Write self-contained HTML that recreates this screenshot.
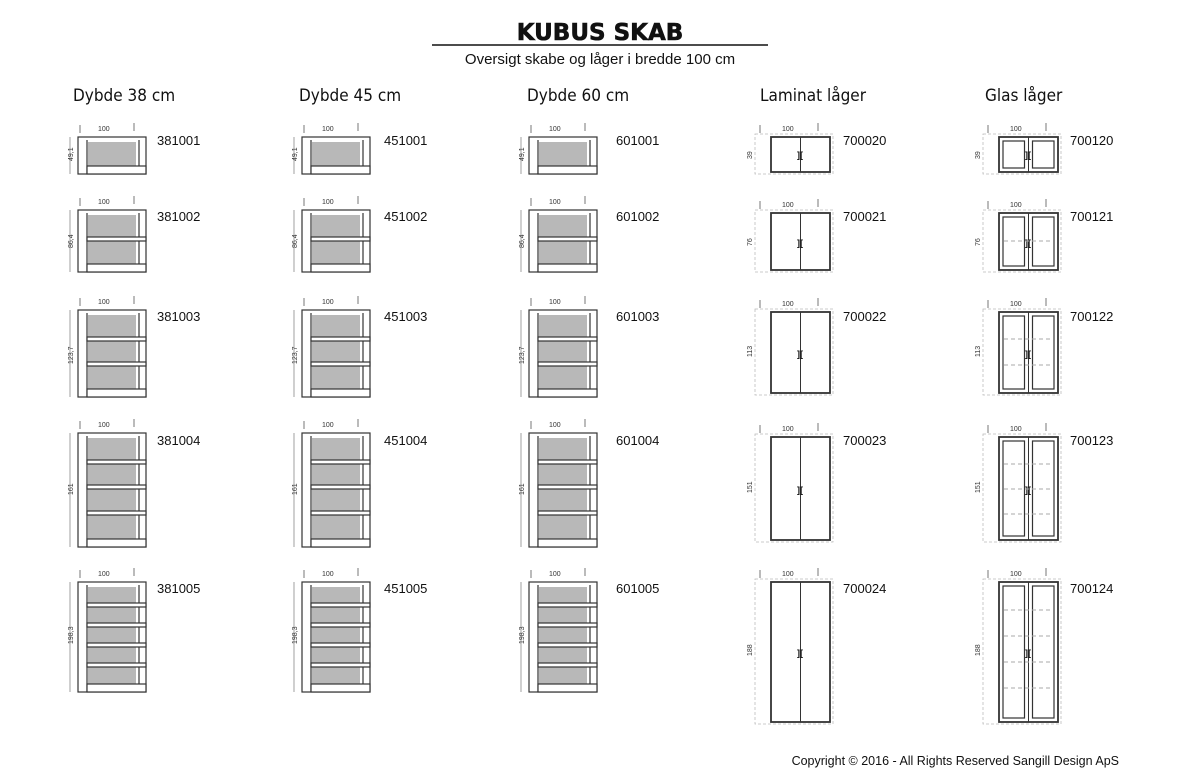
<!DOCTYPE html>
<html><head><meta charset="utf-8"><style>
html,body{margin:0;padding:0;background:#fff;}
svg{display:block;font-family:"Liberation Sans",sans-serif;}
.h{font-family:"Comic Sans MS","DejaVu Sans Condensed","Liberation Sans",sans-serif;font-size:17px;fill:#111;}
.c{font-size:13px;fill:#111;}
.d{font-size:7px;fill:#333;stroke:none;}
</style></head><body>
<svg width="1200" height="777" viewBox="0 0 1200 777" xmlns="http://www.w3.org/2000/svg">
<defs>
<g id="dimS">
 <line x1="4" y1="-12" x2="4" y2="-4" stroke="#555" stroke-width="0.8"/>
 <line x1="58" y1="-14" x2="58" y2="-6" stroke="#555" stroke-width="0.8"/>
 <text class="d" x="22" y="-6">100</text>
</g>
<g id="s1" fill="#fff" stroke="#333" stroke-width="1.2">
 <use href="#dimS"/>
 <rect x="2" y="0" width="68" height="37"/>
 <rect x="12" y="5" width="48" height="24" fill="#b8b8b8" stroke="none"/>
 <line x1="11" y1="3" x2="11" y2="37"/><line x1="63" y1="3" x2="63" y2="29"/>
 <rect x="11" y="29" width="59" height="8"/>
 <line x1="-6" y1="0" x2="-6" y2="37" stroke="#777" stroke-width="0.7"/>
 <text class="d" transform="translate(-3,24) rotate(-90)">49,1</text>
</g>
<g id="s2" fill="#fff" stroke="#333" stroke-width="1.2">
 <use href="#dimS"/>
 <rect x="2" y="0" width="68" height="62"/>
 <rect x="12" y="5" width="48" height="49" fill="#b8b8b8" stroke="none"/>
 <line x1="11" y1="3" x2="11" y2="62"/><line x1="63" y1="3" x2="63" y2="54"/>
 <rect x="11" y="27" width="59" height="4"/>
 <rect x="11" y="54" width="59" height="8"/>
 <line x1="-6" y1="0" x2="-6" y2="62" stroke="#777" stroke-width="0.7"/>
 <text class="d" transform="translate(-3,38) rotate(-90)">86,4</text>
</g>
<g id="s3" fill="#fff" stroke="#333" stroke-width="1.2">
 <use href="#dimS"/>
 <rect x="2" y="0" width="68" height="87"/>
 <rect x="12" y="5" width="48" height="74" fill="#b8b8b8" stroke="none"/>
 <line x1="11" y1="3" x2="11" y2="87"/><line x1="63" y1="3" x2="63" y2="79"/>
 <rect x="11" y="27" width="59" height="4"/>
 <rect x="11" y="52" width="59" height="4"/>
 <rect x="11" y="79" width="59" height="8"/>
 <line x1="-6" y1="0" x2="-6" y2="87" stroke="#777" stroke-width="0.7"/>
 <text class="d" transform="translate(-3,54) rotate(-90)">123,7</text>
</g>
<g id="s4" fill="#fff" stroke="#333" stroke-width="1.2">
 <use href="#dimS"/>
 <rect x="2" y="0" width="68" height="114"/>
 <rect x="12" y="5" width="48" height="101" fill="#b8b8b8" stroke="none"/>
 <line x1="11" y1="3" x2="11" y2="114"/><line x1="63" y1="3" x2="63" y2="106"/>
 <rect x="11" y="27" width="59" height="4"/>
 <rect x="11" y="52" width="59" height="4"/>
 <rect x="11" y="78" width="59" height="4"/>
 <rect x="11" y="106" width="59" height="8"/>
 <line x1="-6" y1="0" x2="-6" y2="114" stroke="#777" stroke-width="0.7"/>
 <text class="d" transform="translate(-3,62) rotate(-90)">161</text>
</g>
<g id="s5" fill="#fff" stroke="#333" stroke-width="1.2">
 <use href="#dimS"/>
 <rect x="2" y="0" width="68" height="110"/>
 <rect x="12" y="5" width="48" height="97" fill="#b8b8b8" stroke="none"/>
 <line x1="11" y1="3" x2="11" y2="110"/><line x1="63" y1="3" x2="63" y2="102"/>
 <rect x="11" y="21" width="59" height="4"/>
 <rect x="11" y="41" width="59" height="4"/>
 <rect x="11" y="61" width="59" height="4"/>
 <rect x="11" y="81" width="59" height="4"/>
 <rect x="11" y="102" width="59" height="8"/>
 <line x1="-6" y1="0" x2="-6" y2="110" stroke="#777" stroke-width="0.7"/>
 <text class="d" transform="translate(-3,62) rotate(-90)">198,3</text>
</g>
<g id="dimD">
 <line x1="5" y1="-12" x2="5" y2="-4" stroke="#555" stroke-width="0.8"/>
 <line x1="63" y1="-14" x2="63" y2="-6" stroke="#555" stroke-width="0.8"/>
 <text class="d" x="27" y="-6">100</text>
</g>
<g id="hd"><text x="42" y="0" font-size="9" font-weight="bold" fill="#111" stroke="none">][</text></g>
<g id="L1" fill="#fff" stroke="#333"><use href="#dimD"/><rect x="0" y="-3" width="78" height="40" fill="none" stroke="#bbb" stroke-dasharray="3,2" stroke-width="0.8"/><rect x="16" y="0" width="59" height="35" stroke-width="1.8"/><line x1="45.5" y1="0" x2="45.5" y2="35"/><use href="#hd" y="21"/><text class="d" transform="translate(-3,22) rotate(-90)">39</text></g>
<g id="L2" fill="#fff" stroke="#333"><use href="#dimD"/><rect x="0" y="-3" width="78" height="62" fill="none" stroke="#bbb" stroke-dasharray="3,2" stroke-width="0.8"/><rect x="16" y="0" width="59" height="57" stroke-width="1.8"/><line x1="45.5" y1="0" x2="45.5" y2="57"/><use href="#hd" y="33"/><text class="d" transform="translate(-3,33) rotate(-90)">76</text></g>
<g id="L3" fill="#fff" stroke="#333"><use href="#dimD"/><rect x="0" y="-3" width="78" height="86" fill="none" stroke="#bbb" stroke-dasharray="3,2" stroke-width="0.8"/><rect x="16" y="0" width="59" height="81" stroke-width="1.8"/><line x1="45.5" y1="0" x2="45.5" y2="81"/><use href="#hd" y="45"/><text class="d" transform="translate(-3,45) rotate(-90)">113</text></g>
<g id="L4" fill="#fff" stroke="#333"><use href="#dimD"/><rect x="0" y="-3" width="78" height="108" fill="none" stroke="#bbb" stroke-dasharray="3,2" stroke-width="0.8"/><rect x="16" y="0" width="59" height="103" stroke-width="1.8"/><line x1="45.5" y1="0" x2="45.5" y2="103"/><use href="#hd" y="56"/><text class="d" transform="translate(-3,56) rotate(-90)">151</text></g>
<g id="L5" fill="#fff" stroke="#333"><use href="#dimD"/><rect x="0" y="-3" width="78" height="145" fill="none" stroke="#bbb" stroke-dasharray="3,2" stroke-width="0.8"/><rect x="16" y="0" width="59" height="140" stroke-width="1.8"/><line x1="45.5" y1="0" x2="45.5" y2="140"/><use href="#hd" y="74"/><text class="d" transform="translate(-3,74) rotate(-90)">188</text></g>
<g id="G1" fill="none" stroke="#333"><use href="#L1"/><rect x="20" y="4" width="21.5" height="27" stroke-width="1.2"/><rect x="49.5" y="4" width="21.5" height="27" stroke-width="1.2"/></g>
<g id="G2" fill="none" stroke="#333"><use href="#L2"/><rect x="20" y="4" width="21.5" height="49" stroke-width="1.2"/><rect x="49.5" y="4" width="21.5" height="49" stroke-width="1.2"/><line x1="21" y1="28" x2="70" y2="28" stroke="#aaa" stroke-dasharray="4,3"/></g>
<g id="G3" fill="none" stroke="#333"><use href="#L3"/><rect x="20" y="4" width="21.5" height="73" stroke-width="1.2"/><rect x="49.5" y="4" width="21.5" height="73" stroke-width="1.2"/><line x1="21" y1="27" x2="70" y2="27" stroke="#aaa" stroke-dasharray="4,3"/><line x1="21" y1="53" x2="70" y2="53" stroke="#aaa" stroke-dasharray="4,3"/></g>
<g id="G4" fill="none" stroke="#333"><use href="#L4"/><rect x="20" y="4" width="21.5" height="95" stroke-width="1.2"/><rect x="49.5" y="4" width="21.5" height="95" stroke-width="1.2"/><line x1="21" y1="27" x2="70" y2="27" stroke="#aaa" stroke-dasharray="4,3"/><line x1="21" y1="52" x2="70" y2="52" stroke="#aaa" stroke-dasharray="4,3"/><line x1="21" y1="77" x2="70" y2="77" stroke="#aaa" stroke-dasharray="4,3"/></g>
<g id="G5" fill="none" stroke="#333"><use href="#L5"/><rect x="20" y="4" width="21.5" height="132" stroke-width="1.2"/><rect x="49.5" y="4" width="21.5" height="132" stroke-width="1.2"/><line x1="21" y1="28" x2="70" y2="28" stroke="#aaa" stroke-dasharray="4,3"/><line x1="21" y1="54" x2="70" y2="54" stroke="#aaa" stroke-dasharray="4,3"/><line x1="21" y1="80" x2="70" y2="80" stroke="#aaa" stroke-dasharray="4,3"/><line x1="21" y1="106" x2="70" y2="106" stroke="#aaa" stroke-dasharray="4,3"/></g>
</defs>

<text x="600" y="40" text-anchor="middle" font-size="23" font-weight="bold" fill="#111" stroke="#111" stroke-width="0.6" style="font-family:'DejaVu Sans','Liberation Sans',sans-serif">KUBUS SKAB</text>
<line x1="432" y1="45" x2="768" y2="45" stroke="#111" stroke-width="1.5"/>
<text x="600" y="64" text-anchor="middle" font-size="15" fill="#111">Oversigt skabe og låger i bredde 100 cm</text>

<text class="h" x="73" y="101">Dybde 38 cm</text>
<text class="h" x="299" y="101">Dybde 45 cm</text>
<text class="h" x="527" y="101">Dybde 60 cm</text>
<text class="h" x="760" y="101">Laminat låger</text>
<text class="h" x="985" y="101">Glas låger</text>

<use href="#s1" x="76" y="137"/><use href="#s1" x="300" y="137"/><use href="#s1" x="527" y="137"/>
<use href="#s2" x="76" y="210"/><use href="#s2" x="300" y="210"/><use href="#s2" x="527" y="210"/>
<use href="#s3" x="76" y="310"/><use href="#s3" x="300" y="310"/><use href="#s3" x="527" y="310"/>
<use href="#s4" x="76" y="433"/><use href="#s4" x="300" y="433"/><use href="#s4" x="527" y="433"/>
<use href="#s5" x="76" y="582"/><use href="#s5" x="300" y="582"/><use href="#s5" x="527" y="582"/>

<use href="#L1" x="755" y="137"/><use href="#L2" x="755" y="213"/><use href="#L3" x="755" y="312"/><use href="#L4" x="755" y="437"/><use href="#L5" x="755" y="582"/>
<use href="#G1" x="983" y="137"/><use href="#G2" x="983" y="213"/><use href="#G3" x="983" y="312"/><use href="#G4" x="983" y="437"/><use href="#G5" x="983" y="582"/>

<text class="c" x="157" y="145">381001</text><text class="c" x="384" y="145">451001</text><text class="c" x="616" y="145">601001</text><text class="c" x="843" y="145">700020</text><text class="c" x="1070" y="145">700120</text>
<text class="c" x="157" y="221">381002</text><text class="c" x="384" y="221">451002</text><text class="c" x="616" y="221">601002</text><text class="c" x="843" y="221">700021</text><text class="c" x="1070" y="221">700121</text>
<text class="c" x="157" y="321">381003</text><text class="c" x="384" y="321">451003</text><text class="c" x="616" y="321">601003</text><text class="c" x="843" y="321">700022</text><text class="c" x="1070" y="321">700122</text>
<text class="c" x="157" y="445">381004</text><text class="c" x="384" y="445">451004</text><text class="c" x="616" y="445">601004</text><text class="c" x="843" y="445">700023</text><text class="c" x="1070" y="445">700123</text>
<text class="c" x="157" y="593">381005</text><text class="c" x="384" y="593">451005</text><text class="c" x="616" y="593">601005</text><text class="c" x="843" y="593">700024</text><text class="c" x="1070" y="593">700124</text>

<text x="1119" y="765" text-anchor="end" font-size="12.5" fill="#111">Copyright © 2016 - All Rights Reserved Sangill Design ApS</text>
</svg>
</body></html>
